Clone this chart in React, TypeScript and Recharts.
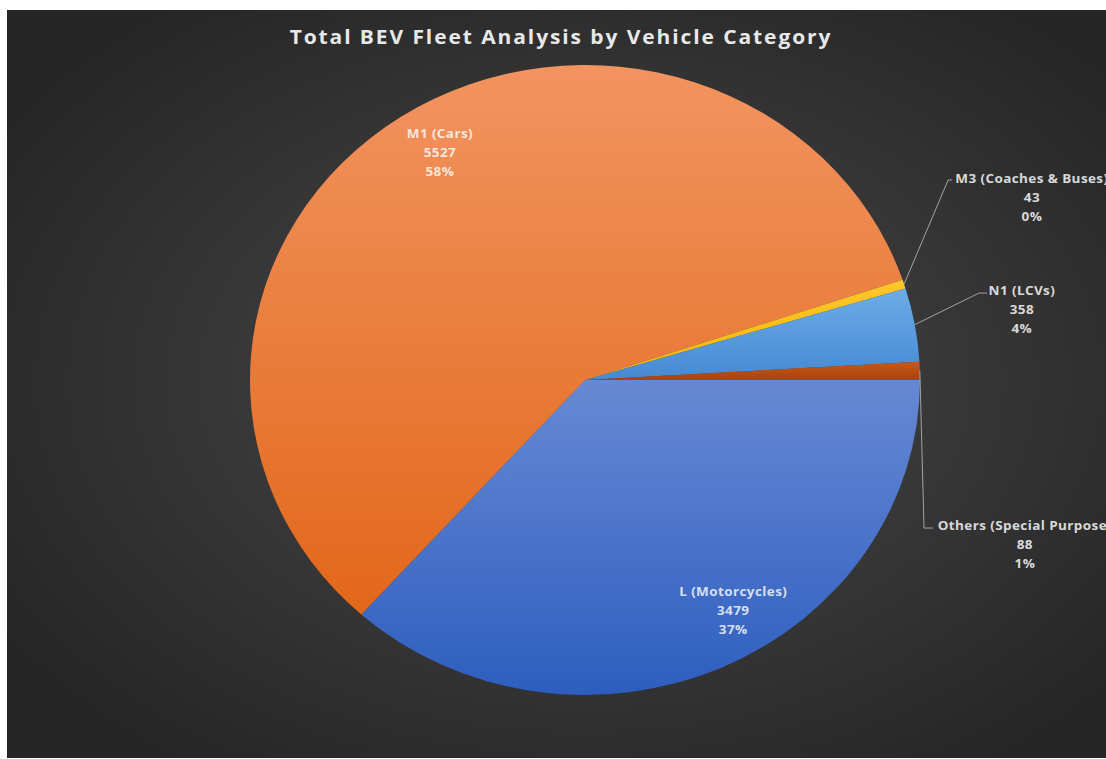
import React from 'react';
import { PieChart, Pie, Cell } from 'recharts';

const categories = ['L (Motorcycles)', 'M1 (Cars)', 'M3 (Coaches & Buses)', 'N1 (LCVs)', 'Others (Special Purpose)'];
const fleetCounts = [3479, 5527, 43, 358, 88];
const sliceIds = ['gL', 'gM1', 'gM3', 'gN1', 'gOth'];
const gradTop = ['#6789d4', '#f29460', '#ffc72a', '#6cace8', '#c9591a'];
const gradBottom = ['#2d5ebf', '#e2671a', '#f5b400', '#4589d2', '#a9420c'];

const total = fleetCounts.reduce((a, b) => a + b, 0);
const data = categories.map((name, i) => ({
  name,
  value: fleetCounts[i],
  pct: `${Math.round((fleetCounts[i] / total) * 100)}%`,
}));

// label layout (in units of the pie radius, relative to the centre)
type Inside = { kind: 'in'; shift: number; r: number };
type Outside = { kind: 'out'; elbow: [number, number]; end: [number, number]; text: [number, number] };
const labelLayout: Record<string, Inside | Outside> = {
  'L (Motorcycles)': { kind: 'in', shift: 7.2, r: 0.853 },
  'M1 (Cars)': { kind: 'in', shift: -2.4, r: 0.843 },
  'M3 (Coaches & Buses)': { kind: 'out', elbow: [1.084, -0.635], end: [1.096, -0.635], text: [1.334, -0.581] },
  'N1 (LCVs)': { kind: 'out', elbow: [1.176, -0.276], end: [1.2, -0.276], text: [1.304, -0.225] },
  'Others (Special Purpose)': { kind: 'out', elbow: [1.012, 0.47], end: [1.039, 0.47], text: [1.313, 0.521] },
};

const RAD = Math.PI / 180;
const LINE = 20.2;
const FONT = "'Open Sans', 'Noto Sans', sans-serif";
const SQUASH = 0.9403;

const renderLabel = (props: any) => {
  const { cx, cy, midAngle, outerRadius, index } = props;
  const d = data[index];
  const lay = labelLayout[d.name];
  const R = outerRadius;
  const lines = [d.name, String(d.value), d.pct];
  if (lay.kind === 'in') {
    const a = midAngle + lay.shift;
    const x = cx + lay.r * R * Math.cos(-a * RAD);
    const y = cy + lay.r * R * Math.sin(-a * RAD);
    return (
      <g key={`lab-${index}`}>
        {lines.map((t, i) => (
          <text key={i} x={x} y={y + (i - 1) * LINE} textAnchor="middle" dominantBaseline="central"
            fill="#ffffff" fillOpacity={0.8} fontFamily={FONT} fontWeight={700} fontSize={13.5} letterSpacing={0.4}>
            {t}
          </text>
        ))}
      </g>
    );
  }
  const ex = cx + R * Math.cos(-midAngle * RAD);
  const ey = cy + R * Math.sin(-midAngle * RAD);
  const bx = cx + lay.elbow[0] * R;
  const by = cy + lay.elbow[1] * R;
  const hx = cx + lay.end[0] * R;
  const tx = cx + lay.text[0] * R;
  const ty = cy + lay.text[1] * R;
  return (
    <g key={`lab-${index}`}>
      <polyline points={`${ex},${ey} ${bx},${by} ${hx},${by}`} fill="none" stroke="#a6a6a6" strokeWidth={1} />
      {lines.map((t, i) => (
        <text key={i} x={tx} y={ty + (i - 1) * LINE} textAnchor="middle" dominantBaseline="central"
          fill="#d9d9d9" fontFamily={FONT} fontWeight={700} fontSize={13.5} letterSpacing={0.4}>
          {t}
        </text>
      ))}
    </g>
  );
};

export default function App() {
  return (
    <div
      style={{
        position: 'absolute',
        left: 7,
        top: 10,
        width: 1099,
        height: 748,
        overflow: 'hidden',
        background: 'radial-gradient(ellipse 62% 62% at 52.6% 49.5%, #545454 0%, #3a3a3a 45%, #262626 100%)',
      }}
    >
      <div
        style={{
          position: 'absolute',
          left: 0,
          top: 0,
          width: 1099,
          height: 796,
          transform: `scaleY(${SQUASH})`,
          transformOrigin: '0 0',
        }}
      >
        <PieChart width={1099} height={796} margin={{ top: 0, right: 0, bottom: 0, left: 0 }} style={{ position: 'absolute', left: 0, top: 0 }}>
          <defs>
            {sliceIds.map((id, i) => (
              <linearGradient key={id} id={id} x1="0" y1="0" x2="0" y2="1">
                <stop offset="0%" stopColor={gradTop[i]} />
                <stop offset="100%" stopColor={gradBottom[i]} />
              </linearGradient>
            ))}
          </defs>
          <Pie
            data={data}
            dataKey="value"
            nameKey="name"
            cx={578}
            cy={393.5}
            outerRadius={335}
            startAngle={0}
            endAngle={-360}
            stroke="none"
            labelLine={false}
            label={renderLabel}
            isAnimationActive={false}
          >
            {data.map((d, i) => (
              <Cell key={d.name} fill={`url(#${sliceIds[i]})`} />
            ))}
          </Pie>
        </PieChart>
        <div
          style={{
            position: 'absolute',
            left: 0,
            width: 1108,
            top: 13,
            textAlign: 'center',
            color: '#e8e8e8',
            fontFamily: FONT,
            fontWeight: 700,
            fontSize: 21,
            letterSpacing: 1.9,
            lineHeight: '30px',
            whiteSpace: 'nowrap',
            zIndex: 2,
          }}
        >
          Total BEV Fleet Analysis by Vehicle Category
        </div>
      </div>
    </div>
  );
}
